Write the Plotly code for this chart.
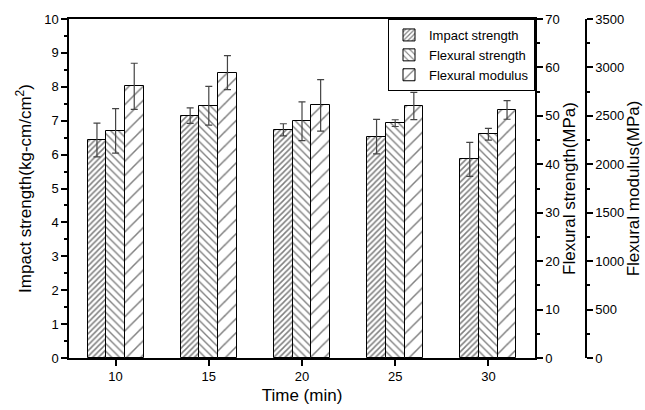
import plotly.graph_objects as go

time_min = [10, 15, 20, 25, 30]
impact = [6.43, 7.15, 6.73, 6.53, 5.86]
impact_err = [0.50, 0.23, 0.18, 0.51, 0.50]
flex_strength = [46.9, 52.1, 48.9, 48.5, 46.2]
flex_strength_err = [4.6, 4.0, 4.0, 0.7, 1.2]
flex_modulus = [2805, 2946, 2609, 2602, 2561]
flex_modulus_err = [238, 175, 266, 140, 96]

FONT = "Arial"
W, H = 645, 410
ML, MR, MT, MB = 69, 0, 19, 52
plot_right_px = 535
axis3_px = 586
paper_w = W - ML - MR
dom_right = (plot_right_px - ML) / paper_w
pos3 = (axis3_px - ML) / paper_w

err_style = dict(type="data", color="#444", thickness=1.2, width=3.5)


def bar(name, xs, ys, errs, shape, size, solidity, yaxis):
    return go.Bar(
        name=name, x=xs, y=ys, width=1, yaxis=yaxis,
        error_y=dict(array=errs, **err_style),
        marker=dict(color="white", line=dict(color="black", width=1),
                    pattern=dict(shape=shape, size=size, solidity=solidity,
                                 fgcolor="black", bgcolor="white", fillmode="overlay")),
    )


fig = go.Figure()
fig.add_trace(bar("Impact strength", [t - 1 for t in time_min], impact, impact_err, "/", 4, 0.38, "y"))
fig.add_trace(bar("Flexural strength", time_min, flex_strength, flex_strength_err, "\\", 5.5, 0.25, "y2"))
fig.add_trace(bar("Flexural modulus", [t + 1 for t in time_min], flex_modulus, flex_modulus_err, "/", 10, 0.15, "y3"))

tickfont = dict(family=FONT, size=13, color="black")
titlefont = dict(family=FONT, size=17, color="black")
common = dict(showline=True, linecolor="black", linewidth=1.5, ticks="outside",
              ticklen=6, tickwidth=1.5, tickcolor="black", showgrid=False,
              zeroline=False, tickfont=tickfont)

fig.update_layout(
    width=W, height=H, margin=dict(l=ML, r=MR, t=MT, b=MB),
    paper_bgcolor="white", plot_bgcolor="white",
    barmode="overlay", bargap=0,
    font=dict(family=FONT, color="black", size=13),
    xaxis=dict(domain=[0, dom_right], range=[7.5, 32.5], tickvals=time_min,
               ticktext=[str(t) for t in time_min], mirror=True,
               title=dict(text="Time (min)", font=titlefont, standoff=6), **common),
    yaxis=dict(range=[0, 10], dtick=1, title=dict(text="Impact strength(kg-cm/cm<sup>2</sup>)", font=titlefont, standoff=8),
               minor=dict(dtick=0.5, ticks="outside", ticklen=3, tickwidth=1.5, tickcolor="black"),
               **common),
    yaxis2=dict(range=[0, 70], dtick=10, overlaying="y", side="right", anchor="x",
                title=dict(text="Flexural strength(MPa)", font=titlefont, standoff=2),
                minor=dict(dtick=5, ticks="outside", ticklen=3, tickwidth=1.5, tickcolor="black"),
                **common),
    yaxis3=dict(range=[0, 3500], dtick=500, overlaying="y", side="right", anchor="free",
                position=pos3,
                title=dict(text="Flexural modulus(MPa)", font=titlefont, standoff=2),
                minor=dict(dtick=250, ticks="outside", ticklen=3, tickwidth=1.5, tickcolor="black"),
                **common),
    legend=dict(x=dom_right, xanchor="right", y=1, yanchor="top",
                bgcolor="white", bordercolor="black", borderwidth=1,
                font=dict(family=FONT, size=13, color="black"),
                tracegroupgap=0, itemwidth=30),
    showlegend=True,
)

fig.write_html("out.html")
